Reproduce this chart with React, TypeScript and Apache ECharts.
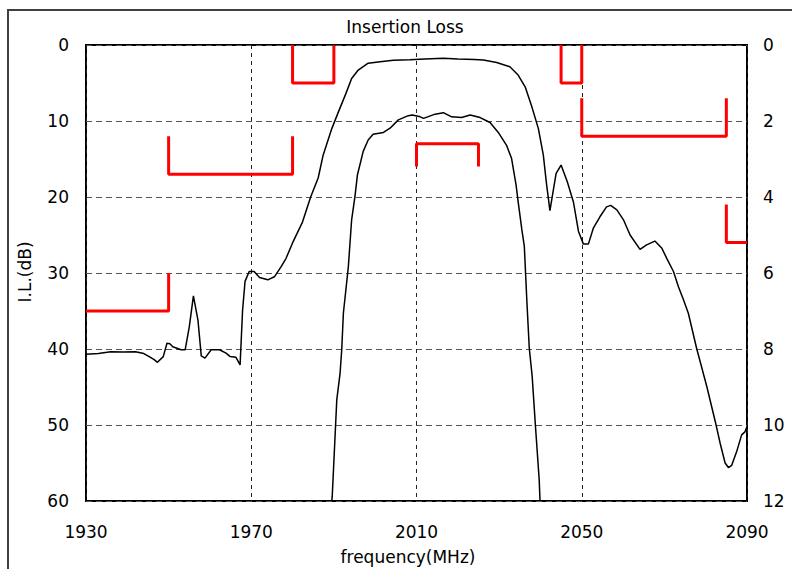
import React, { useEffect, useRef } from "react";
import * as echarts from "echarts";

// Wide curve: frequency (MHz) and insertion loss (dB, left axis)
const wideFreq = [
  1930, 1933, 1936, 1939, 1942, 1944, 1945.3, 1946.5, 1947.3, 1948.7, 1949.6, 1950.3, 1951, 1953, 1954,
  1955, 1956, 1957.1, 1957.9, 1958.8, 1960.3, 1962.3, 1963.9, 1964.9, 1966.3, 1967.3, 1967.9, 1968.5,
  1969.5, 1970.7, 1972, 1974, 1975.6, 1977.2, 1978.4, 1980.2, 1982.4, 1984.4, 1986.2, 1987.4, 1989.5,
  1991.1, 1992.9, 1994.3, 1995.9, 1998.3, 2001.2, 2004.4, 2008.4, 2012, 2016.5, 2020, 2024, 2026.2,
  2029.4, 2032.6, 2034.6, 2036.3, 2037.9, 2039.5, 2040.7, 2041.5, 2042.3, 2043.3, 2043.8, 2045, 2046.5,
  2048, 2049.2, 2050.4, 2051.6, 2052.8, 2054.4, 2056, 2057, 2058.5, 2060.1, 2061.7, 2064.1, 2065.7,
  2067.7, 2069.4, 2070.6, 2072.2, 2073.4, 2074.6, 2075.8, 2077.8, 2080.3, 2082.3, 2083.5, 2084.7, 2085.5,
  2086.3, 2087.5, 2088.7, 2089.5, 2090,
];
const wideIL = [
  40.7, 40.6, 40.35, 40.4, 40.35, 40.6, 41.0, 41.4, 41.75, 41.0, 39.25, 39.3, 39.7, 40.1, 40.1,
  37.1, 33.0, 36.2, 40.9, 41.2, 40.1, 40.1, 40.55, 41.0, 41.1, 42.1, 34.9, 31.1,
  29.8, 29.8, 30.6, 30.9, 30.5, 29.2, 28.1, 25.8, 23.3, 19.96, 17.5, 14.5, 11.0,
  8.8, 6.4, 4.4, 3.3, 2.4, 2.2, 2.0, 1.95, 1.85, 1.75, 1.85, 1.9, 1.97,
  2.3, 2.85, 3.95, 5.5, 8.1, 11.0, 14.5, 18.4, 21.8, 18.5, 16.9, 15.8, 18.0,
  20.7, 24.5, 26.2, 26.2, 24.1, 22.6, 21.3, 21.1, 21.7, 23.0, 25.0, 26.9, 26.3,
  25.8, 26.75, 28.1, 29.8, 31.8, 33.5, 35.3, 39.9, 45.0, 49.5, 52.4, 55.0, 55.6,
  55.3, 53.5, 51.3, 50.9, 50.2,
];

// Passband detail curve: frequency (MHz) and insertion loss (dB, right axis)
const passFreq = [
  1989.5, 1989.6, 1990.7, 1991.5, 1991.9, 1992.3, 1993.5, 1994.3, 1995.1, 1995.7, 1997.1, 1998.3,
  1999.5, 2002, 2003.6, 2005.6, 2008, 2009, 2010.9, 2011.7, 2014.5, 2016.5, 2018.5, 2020.9, 2023,
  2025.4, 2027.8, 2029.8, 2031.8, 2033, 2034.1, 2034.6, 2035.5, 2036.1, 2036.7, 2037.3, 2038, 2038.8,
  2039.7, 2039.9,
];
const passIL = [
  12, 11.88, 9.34, 8.64, 8.02, 7.06, 5.84, 4.6, 3.99, 3.42, 2.8, 2.5,
  2.35, 2.3, 2.19, 1.97, 1.86, 1.84, 1.89, 1.93, 1.82, 1.78, 1.89, 1.91, 1.84,
  1.91, 2.04, 2.3, 2.64, 2.98, 3.68, 4.12, 4.86, 5.3, 6.71, 7.98, 8.72, 10.04,
  11.44, 12,
];

// Spec mask segments (left axis, dB)
const maskA_f = [1930, 1950, 1950];
const maskA_v = [35, 35, 30];
const maskB_f = [1950, 1950, 1980, 1980];
const maskB_v = [12, 17, 17, 12];
const maskC_f = [1980, 1980, 1990, 1990];
const maskC_v = [0, 5, 5, 0];
const maskD_f = [2045, 2045, 2050, 2050];
const maskD_v = [0, 5, 5, 0];
const maskE_f = [2050, 2050, 2085, 2085];
const maskE_v = [7, 12, 12, 7];
const maskF_f = [2085, 2085, 2090];
const maskF_v = [21, 26, 26];
// Passband spec (right axis, dB)
const maskP_f = [2010, 2010, 2025, 2025];
const maskP_v = [3.2, 2.6, 2.6, 3.2];

const xTicks = { min: 1930, max: 2090, interval: 40 };
const leftTicks = { min: 0, max: 60, interval: 10 };
const rightTicks = { min: 0, max: 12, interval: 2 };

const zip = (a: number[], b: number[]) => a.map((v, i) => [v, b[i]]);

const FONT = "DejaVu Sans";

export default function App() {
  const ref = useRef<HTMLDivElement>(null);
  useEffect(() => {
    if (!ref.current) return;
    const chart = echarts.init(ref.current, null, { renderer: "svg" });
    const maskSeries = (f: number[], v: number[], yIdx = 0) => ({
      type: "line",
      data: zip(f, v),
      yAxisIndex: yIdx,
      showSymbol: false,
      symbol: "none",
      lineStyle: { color: "#ff0000", width: 3 },
      itemStyle: { color: "#ff0000" },
      z: 3,
      silent: true,
    });
    const plain = (v: number) => String(v);
    chart.setOption({
      animation: false,
      backgroundColor: "#ffffff",
      textStyle: { fontFamily: FONT },
      graphic: [
        {
          type: "rect",
          shape: { x: 8, y: 10, width: 820, height: 620 },
          style: { fill: "none", stroke: "#404040", lineWidth: 2 },
          silent: true,
        },
        {
          type: "text",
          x: 405,
          y: 27,
          style: {
            text: "Insertion Loss",
            font: `17px "${FONT}"`,
            fill: "#000",
            textAlign: "center",
            textVerticalAlign: "middle",
          },
        },
        {
          type: "text",
          x: 408,
          y: 557,
          style: {
            text: "frequency(MHz)",
            font: `17px "${FONT}"`,
            fill: "#000",
            textAlign: "center",
            textVerticalAlign: "middle",
          },
        },
        {
          type: "text",
          x: 25,
          y: 272,
          rotation: Math.PI / 2,
          style: {
            text: "I.L.(dB)",
            font: `17px "${FONT}"`,
            fill: "#000",
            textAlign: "center",
            textVerticalAlign: "middle",
          },
        },
      ],
      grid: {
        left: 86,
        right: 45,
        top: 45,
        bottom: 68,
        show: true,
        borderColor: "#000",
        borderWidth: 2,
        backgroundColor: "transparent",
      },
      xAxis: {
        type: "value",
        min: xTicks.min,
        max: xTicks.max,
        interval: xTicks.interval,
        axisLine: { show: false },
        axisTick: { show: false },
        axisLabel: { color: "#000", fontSize: 17, fontFamily: FONT, margin: 22, formatter: plain },
        splitLine: { show: true, lineStyle: { color: "#222", type: [4, 4], width: 1 } },
      },
      yAxis: [
        {
          type: "value",
          inverse: true,
          min: leftTicks.min,
          max: leftTicks.max,
          interval: leftTicks.interval,
          axisLine: { show: false },
          axisTick: { show: false },
          axisLabel: { color: "#000", fontSize: 17, fontFamily: FONT, margin: 17, formatter: plain },
          splitLine: { show: true, lineStyle: { color: "#555", type: [6, 4], width: 1 } },
        },
        {
          type: "value",
          inverse: true,
          position: "right",
          min: rightTicks.min,
          max: rightTicks.max,
          interval: rightTicks.interval,
          axisLine: { show: false },
          axisTick: { show: false },
          axisLabel: { color: "#000", fontSize: 17, fontFamily: FONT, margin: 16, formatter: plain },
          splitLine: { show: false },
        },
      ],
      series: [
        {
          type: "line",
          data: zip(wideFreq, wideIL),
          yAxisIndex: 0,
          showSymbol: false,
          symbol: "none",
          lineStyle: { color: "#000", width: 1.5 },
          z: 4,
          clip: true,
          silent: true,
        },
        {
          type: "line",
          data: zip(passFreq, passIL),
          yAxisIndex: 1,
          showSymbol: false,
          symbol: "none",
          lineStyle: { color: "#000", width: 1.5 },
          z: 4,
          clip: true,
          silent: true,
        },
        maskSeries(maskA_f, maskA_v),
        maskSeries(maskB_f, maskB_v),
        maskSeries(maskC_f, maskC_v),
        maskSeries(maskD_f, maskD_v),
        maskSeries(maskE_f, maskE_v),
        maskSeries(maskF_f, maskF_v),
        maskSeries(maskP_f, maskP_v, 1),
      ],
    });
    return () => chart.dispose();
  }, []);
  return (
    <div
      ref={ref}
      style={{ position: "fixed", left: 0, top: 0, width: 792, height: 569, background: "#fff" }}
    />
  );
}
